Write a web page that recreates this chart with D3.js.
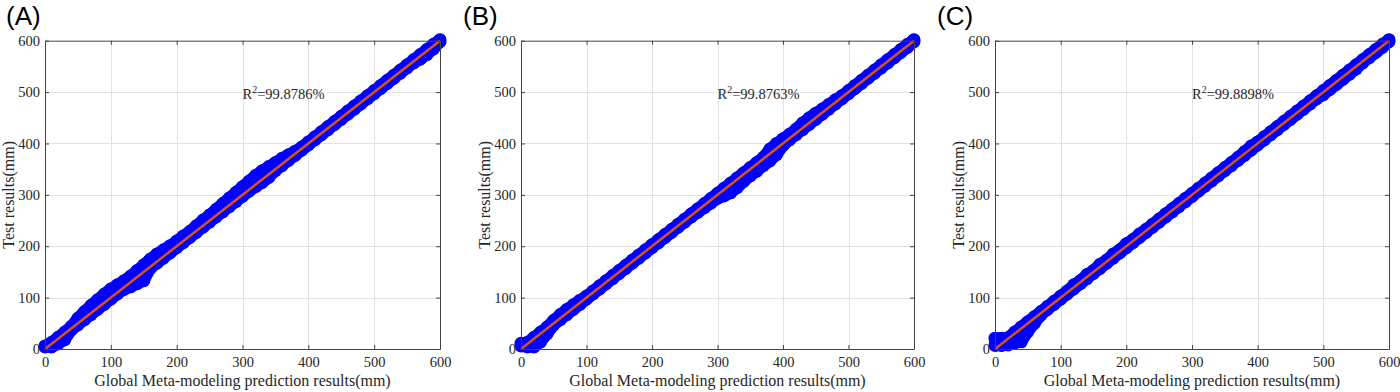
<!DOCTYPE html>
<html><head><meta charset="utf-8">
<script src="https://cdn.jsdelivr.net/npm/d3@7"></script>
<style>body{margin:0;background:#fff}svg{display:block}</style>
</head><body>
<svg id="chart" width="1400" height="392"></svg>
<script>
// ---- data ----
const prediction = [0,10,20,30,40,50,60,70,80,90,100,110,120,130,140,150,160,170,180,190,200,210,220,230,240,250,260,270,280,290,300,310,320,330,340,350,360,370,380,390,400,410,420,430,440,450,460,470,480,490,500,510,520,530,540,550,560,570,580,590,600];

const testUpperA = [6,13,23,33,44,60,73,85,96,107,117,125,133,142,153,164,175,185,193,201,210,220,229,240,251,261,272,283,294,305,316,327,338,347,355,363,371,378,385,393,403,413,423,433,443,453,463,473,483,493,503,513,523,533,543,553,563,573,583,593,602];
const testLowerA = [4,4,10,18,37,47,57,67,77,87,97,107,116,121,127,133,157,167,177,187,197,207,217,227,237,247,257,267,277,287,297,307,316,324,334,347,357,367,377,387,397,407,417,427,437,447,457,467,477,487,497,507,517,527,537,547,557,564,573,584,598];

const testUpperB = [11,13,23,33,43,56,67,77,86,95,103,113,123,133,143,153,163,173,183,193,203,213,223,233,243,253,263,273,283,293,303,313,323,333,343,353,363,373,389,400,409,418,428,440,450,459,467,476,485,493,503,513,523,533,543,553,563,573,583,593,602];
const testLowerB = [6,4,4,14,30,47,57,67,77,87,97,107,117,127,137,147,157,167,177,187,197,207,217,227,237,247,257,266,275,284,293,298,304,314,326,337,346,357,366,378,396,407,417,427,437,447,457,467,477,487,497,507,517,527,537,547,557,567,577,587,598];

const testUpperC = [21,21,22,33,43,53,63,73,83,93,103,113,125,133,145,153,165,173,185,193,205,213,224,233,243,253,263,273,283,293,303,313,323,333,343,353,363,373,384,395,403,413,423,433,443,453,463,473,483,493,503,513,523,533,543,553,563,573,583,593,602];
const testLowerC = [7,7,8,12,14,34,50,66,77,87,97,107,117,127,137,147,157,167,177,187,197,207,217,227,237,247,257,267,277,287,297,307,317,327,337,347,357,367,377,387,397,407,417,427,437,447,457,467,477,487,495,505,515,525,535,545,557,567,577,587,598];

const fitLine = [0, 600];
const tickValues = [0,100,200,300,400,500,600];
const panelTags = ["(A)","(B)","(C)"];
const r2Values = ["=99.8786%","=99.8763%","=99.8898%"];
const xTitle = "Global Meta-modeling prediction results(mm)";
const yTitle = "Test results(mm)";

// ---- layout ----
const panels = [
  {upper: testUpperA, lower: testLowerA, left: 45,  right: 440,  tagX: 6},
  {upper: testUpperB, lower: testLowerB, left: 521, right: 914,  tagX: 463},
  {upper: testUpperC, lower: testLowerC, left: 995, right: 1389, tagX: 937}
];
const plotTop = 40.7, plotBottom = 349;
const serif = "'Liberation Serif','Times New Roman',serif";
const svg = d3.select("#chart");
const markerR = 6.5;

panels.forEach((p, i) => {
  const x = d3.scaleLinear().domain([0,600]).range([p.left, p.right]);
  const y = d3.scaleLinear().domain([0,600]).range([plotBottom, plotTop]);
  const g = svg.append("g");

  // grid
  g.append("g").selectAll("line").data(tickValues.slice(1,-1)).join("line")
    .attr("x1", d => Math.round(x(d)) + 0.5).attr("x2", d => Math.round(x(d)) + 0.5)
    .attr("y1", plotTop).attr("y2", plotBottom).attr("stroke", "#e2e2e2").attr("stroke-width", 1);
  g.append("g").selectAll("line").data(tickValues.slice(1,-1)).join("line")
    .attr("y1", d => Math.round(y(d)) + 0.5).attr("y2", d => Math.round(y(d)) + 0.5)
    .attr("x1", p.left).attr("x2", p.right).attr("stroke", "#e2e2e2").attr("stroke-width", 1);

  // scatter band (filled markers)
  const pts = prediction.map((v, k) => ({x: v, hi: p.upper[k], lo: p.lower[k]}));
  const area = d3.area().x(d => x(d.x)).y0(d => y(d.lo)).y1(d => y(d.hi));
  g.append("path").datum(pts).attr("d", area).attr("fill", "#0000ff")
    .attr("stroke", "#0000ff").attr("stroke-width", 2 * markerR - 1.2).attr("stroke-linejoin", "round");
  const dots = [];
  pts.forEach(d => { dots.push({x: d.x, y: d.hi}); dots.push({x: d.x, y: d.lo}); });
  g.append("g").selectAll("circle").data(dots).join("circle")
    .attr("cx", d => x(d.x)).attr("cy", d => y(d.y)).attr("r", markerR).attr("fill", "#0000ff");

  // fit line
  g.append("path").datum(fitLine)
    .attr("d", d3.line().x(d => x(d)).y(d => y(d)))
    .attr("stroke", "#D95319").attr("stroke-width", 2.5).attr("fill", "none");

  // axes (ticks inward, box)
  const axColor = "#444";
  const bx = g.append("g").attr("transform", `translate(0,${plotBottom})`)
    .call(d3.axisBottom(x).tickValues(tickValues).tickSizeInner(-4).tickSizeOuter(0).tickPadding(8));
  const lx = g.append("g").attr("transform", `translate(${p.left},0)`)
    .call(d3.axisLeft(y).tickValues(tickValues).tickSizeInner(-4).tickSizeOuter(0).tickPadding(5));
  const tx = g.append("g").attr("transform", `translate(0,${plotTop})`)
    .call(d3.axisTop(x).tickValues(tickValues).tickSizeInner(-4).tickSizeOuter(0).tickFormat(""));
  const rx = g.append("g").attr("transform", `translate(${p.right},0)`)
    .call(d3.axisRight(y).tickValues(tickValues).tickSizeInner(-4).tickSizeOuter(0).tickFormat(""));
  [bx, lx, tx, rx].forEach(a => {
    a.selectAll("path,line").attr("stroke", axColor);
    a.selectAll("text").attr("fill", "#262626").style("font-family", serif).style("font-size", "14.5px");
  });

  // R^2 annotation
  const t = g.append("text").attr("x", x(300)).attr("y", y(486))
    .style("font-family", serif).style("font-size", "14.5px").attr("fill", "#262626");
  t.append("tspan").text("R");
  t.append("tspan").attr("dy", -6).style("font-size", "10px").text("2");
  t.append("tspan").attr("dy", 6).text(r2Values[i]);

  // axis titles
  g.append("text").attr("x", (p.left + p.right) / 2).attr("y", 386)
    .attr("text-anchor", "middle").style("font-family", serif).style("font-size", "16px")
    .attr("fill", "#262626").text(xTitle);
  g.append("text").attr("transform", `translate(${p.left - 31},${(plotTop + plotBottom) / 2}) rotate(-90)`)
    .attr("text-anchor", "middle").style("font-family", serif).style("font-size", "16px")
    .attr("fill", "#262626").text(yTitle);

  // panel tag
  g.append("text").attr("x", p.tagX).attr("y", 25)
    .style("font-family", "'Liberation Sans',Arial,sans-serif").style("font-size", "26px")
    .attr("fill", "#000").text(panelTags[i]);
});
</script>
</body></html>
